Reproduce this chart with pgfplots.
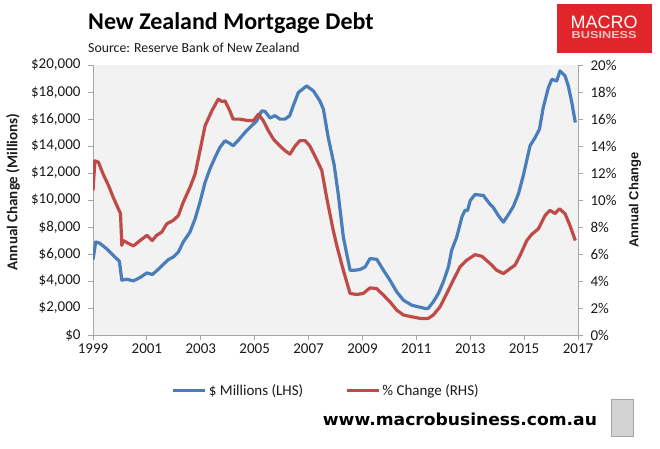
\documentclass[border=0pt]{standalone}
\usepackage{fontspec}
\setmainfont{Carlito}
\newfontfamily\arialfont{Liberation Sans}
\newfontfamily\dejavu{DejaVu Sans}
\usepackage{graphicx}
\usepackage{pgfplots}
\pgfplotsset{compat=1.18}
\definecolor{blueline}{HTML}{4A7EBB}
\definecolor{redline}{HTML}{BE4B48}
\definecolor{bggray}{HTML}{F2F2F2}
\definecolor{axgray}{HTML}{A6A6A6}
\definecolor{txt}{HTML}{1A1A1A}
\definecolor{logored}{HTML}{E0262B}
\definecolor{logopink}{HTML}{F6C4C4}

\pgfplotstableread{
x y
1999.00 5590
1999.10 6890
1999.25 6800
1999.50 6400
1999.75 5900
1999.98 5460
2000.07 4060
2000.25 4130
2000.50 4010
2000.75 4260
2001.00 4600
2001.20 4480
2001.36 4750
2001.55 5120
2001.80 5590
2001.98 5780
2002.17 6150
2002.35 6890
2002.60 7630
2002.79 8610
2002.97 9840
2003.16 11310
2003.34 12300
2003.53 13160
2003.71 13900
2003.90 14390
2004.08 14190
2004.20 14020
2004.40 14440
2004.64 15000
2004.89 15500
2005.08 15870
2005.26 16600
2005.38 16570
2005.57 16070
2005.75 16250
2005.94 15990
2006.12 15990
2006.30 16240
2006.43 16970
2006.62 17960
2006.93 18450
2007.18 18080
2007.42 17340
2007.55 16730
2007.73 14630
2007.95 12600
2008.10 10460
2008.29 7260
2008.54 4800
2008.72 4800
2008.91 4850
2009.10 5040
2009.28 5660
2009.53 5610
2009.78 4800
2010.02 4060
2010.27 3200
2010.52 2580
2010.83 2210
2011.07 2090
2011.32 1970
2011.44 1970
2011.63 2460
2011.82 3080
2012.00 3930
2012.19 5040
2012.31 6270
2012.50 7260
2012.69 8730
2012.80 9220
2012.90 9220
2013.00 9960
2013.18 10410
2013.49 10330
2013.74 9670
2013.85 9470
2014.04 8860
2014.23 8360
2014.42 8930
2014.60 9520
2014.79 10460
2014.97 11810
2015.22 14020
2015.41 14630
2015.57 15250
2015.71 16850
2015.90 18320
2016.03 18940
2016.21 18820
2016.33 19560
2016.52 19190
2016.64 18450
2016.77 17220
2016.90 15740
}\millions

\pgfplotstableread{
x y
1999.00 10.7
1999.07 12.9
1999.20 12.8
1999.38 11.9
1999.57 11.1
1999.75 10.2
1999.94 9.35
2000.02 9.0
2000.07 6.64
2000.12 7.0
2000.30 6.8
2000.50 6.6
2000.75 7.0
2001.00 7.38
2001.20 7.0
2001.36 7.38
2001.55 7.62
2001.74 8.24
2001.98 8.49
2002.17 8.86
2002.35 9.84
2002.60 10.94
2002.79 11.93
2002.97 13.65
2003.16 15.5
2003.41 16.6
2003.65 17.47
2003.78 17.3
2003.90 17.34
2004.08 16.6
2004.20 15.99
2004.45 15.99
2004.70 15.9
2004.95 15.87
2005.14 16.36
2005.32 15.87
2005.51 15.13
2005.70 14.5
2005.94 14.0
2006.13 13.65
2006.31 13.4
2006.50 14.0
2006.68 14.4
2006.87 14.4
2007.05 14.0
2007.30 13.0
2007.49 12.2
2007.67 10.2
2007.90 7.9
2008.05 6.6
2008.29 4.8
2008.54 3.08
2008.79 3.0
2009.03 3.08
2009.28 3.49
2009.53 3.44
2009.78 2.95
2010.02 2.46
2010.27 1.85
2010.52 1.48
2010.83 1.35
2011.14 1.23
2011.44 1.23
2011.63 1.48
2011.88 2.09
2012.13 3.08
2012.37 4.06
2012.62 5.04
2012.87 5.54
2013.18 5.95
2013.43 5.83
2013.74 5.29
2013.98 4.8
2014.23 4.55
2014.48 4.92
2014.66 5.17
2014.85 5.9
2015.10 7.0
2015.28 7.45
2015.53 7.87
2015.78 8.86
2015.96 9.23
2016.15 9.0
2016.31 9.35
2016.52 8.98
2016.70 8.12
2016.90 7.0
}\pct

\begin{document}
\begin{tikzpicture}[x=1pt,y=1pt]
\path[use as bounding box, fill=white] (0,0) rectangle (660,448);

\pgfplotsset{common/.style={
  at={(93pt,113pt)}, anchor=south west, scale only axis,
  width=485pt, height=270pt, xmin=1999, xmax=2017,
  tick align=outside, major tick length=5pt,
  tick style={axgray, line width=0.8pt},
  axis line style={axgray, line width=0.8pt},
  tick label style={font=\fontsize{15}{16}\selectfont, text=txt},
  scaled y ticks=false, scaled x ticks=false,
  /pgf/number format/assume math mode=true,
}}

\begin{axis}[common, ymin=0, ymax=20000,
  axis y line*=left, axis x line*=bottom,
  axis background/.style={fill=bggray},
  xtick={1999,2001,...,2017},
  xticklabels={1999,2001,2003,2005,2007,2009,2011,2013,2015,2017},
  ytick={0,2000,...,20000},
  yticklabel={\$\pgfmathprintnumber[1000 sep={,}]{\tick}},
  yticklabel style={xshift=-4pt},
  line join=round]
\addplot[blueline, line width=3.2pt, line join=round] table[x=x,y=y] {\millions};
\end{axis}

\begin{axis}[common, ymin=0, ymax=20,
  axis y line*=right, axis x line=none,
  ytick={0,2,...,20},
  yticklabel={\pgfmathprintnumber{\tick}\%},
  yticklabel style={xshift=4pt},
  legend columns=2,
  legend cell align=left,
  legend image code/.code={\draw[#1] (0pt,0pt) -- (32pt,0pt);},
  legend style={at={(0.162,-0.207)}, anchor=west, draw=none, fill=none,
    inner sep=0pt, font=\fontsize{15}{16}\selectfont, text=txt,
    /tikz/every even column/.append style={column sep=40pt}}]
\addlegendimage{blueline, line width=3.2pt}
\addlegendentry{\$ Millions (LHS)}
\addplot[redline, line width=3.2pt, line join=round] table[x=x,y=y] {\pct};
\addlegendentry{\% Change (RHS)}
\end{axis}

% titles
\node[anchor=base west, inner sep=0pt, font=\fontsize{24}{26}\selectfont\bfseries, text=black] at (88,418) {New Zealand Mortgage Debt};
\node[anchor=base west, inner sep=0pt, font=\fontsize{13.8}{15}\selectfont, text=txt] at (88,395) {Source: Reserve Bank of New Zealand};

% axis titles
\node[rotate=90, inner sep=0pt, font=\fontsize{15}{16}\selectfont\bfseries, text=txt] at (13,256) {Annual Change (Millions)};
\node[rotate=90, inner sep=0pt, font=\arialfont\fontsize{13}{14}\selectfont\bfseries, text=txt] at (635,248) {Annual Change};

% logo
\fill[logored] (556.7,395) rectangle (651.7,444);
\node[anchor=base, inner sep=0pt, text depth=0pt, font=\arialfont\fontsize{18}{19}\selectfont, text=white] at (604.2,419.7) {MACRO};
\node[anchor=base, inner sep=0pt, text depth=0pt, text height=7pt, font=\arialfont\fontsize{10}{11}\selectfont\bfseries, text=logopink] at (604.2,409.2) {\resizebox{65pt}{\height}{BUSINESS}};

% url
\node[anchor=base west, inner sep=0pt, font=\dejavu\fontsize{16.5}{18}\selectfont\bfseries, text=black] at (322.7,23) {\resizebox{274pt}{\height}{www.macrobusiness.com.au}};

% wolf box
\filldraw[fill=gray!35, draw=gray!70, line width=0.8pt] (611.7,11.3) rectangle (633,49);
\end{tikzpicture}
\end{document}
